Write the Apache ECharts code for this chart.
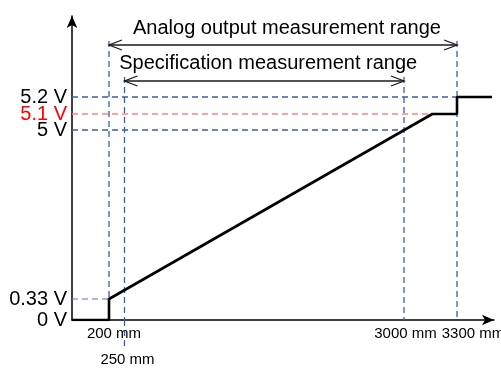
<!DOCTYPE html>
<html>
<head>
<meta charset="utf-8">
<script src="https://cdn.jsdelivr.net/npm/echarts@6/dist/echarts.min.js"></script>
<style>
  html, body { margin: 0; padding: 0; background: #fff; }
  #chart { width: 501px; height: 368px; }
</style>
</head>
<body>
<div id="chart"></div>
<script>
// data (real units)
const xTicks = [200, 250, 3000, 3300];          // mm
const yTicks = [0, 0.33, 5, 5.1, 5.2];          // V
const outMm = [0, 200, 200, 3160, 3300, 3300, 3500];
const outV = [0, 0, 0.33, 5.1, 5.1, 5.2, 5.2];
const rangeNames = ['Analog output measurement range', 'Specification measurement range'];
const rangeFrom = [200, 250];
const rangeTo = [3300, 3000];

// schematic (not to scale) axes: real value -> position along the axis
const xMap = [[0, 0], [200, 37], [250, 52.5], [3000, 332], [3300, 385], [3500, 420]];
const yMap = [[0, 0], [0.33, 21], [5, 190], [5.1, 206], [5.2, 223], [6, 304]];
function interp(map, v) {
    for (let i = 1; i < map.length; i++) {
        if (v <= map[i][0]) {
            let a = map[i - 1], b = map[i];
            return a[1] + (v - a[0]) / (b[0] - a[0]) * (b[1] - a[1]);
        }
    }
    return map[map.length - 1][1];
}
const px = v => interp(xMap, v);
const py = v => interp(yMap, v);

// levels of the range arrows (axis units)
const arrowLevel = [275, 239];
const guideTop = [279, 243];
const textLevel = [292, 257];

const blue = '#3d5ca8';
const dash = [6, 4];
const font = 'Liberation Sans';

let myChart = echarts.init(document.getElementById('chart'));

function guide(points, color, width) {
    return {
        type: 'line',
        data: points,
        symbol: 'none',
        silent: true,
        z: 1,
        lineStyle: { color: color, width: width || 1.3, type: dash }
    };
}

let series = [];
// horizontal guides
series.push(guide([[0, py(5.2)], [px(3300), py(5.2)]], blue));
series.push(guide([[0, py(5.1)], [px(3160), py(5.1)]], '#ff8080'));
series.push(guide([[0, py(5)], [px(3000), py(5)]], blue));
series.push(guide([[0, py(0.33)], [px(200), py(0.33)]], '#5a72b8', 1));
// vertical guides
series.push(guide([[px(200), guideTop[0]], [px(200), py(0.33)]], blue));
series.push(guide([[px(250), guideTop[1]], [px(250), 0]], blue));
series.push(guide([[px(3000), guideTop[1]], [px(3000), 0]], blue));
series.push(guide([[px(3300), guideTop[0]], [px(3300), 0]], blue));

// output line
series.push({
    type: 'line',
    data: outMm.map((m, i) => [px(m), py(outV[i])]),
    symbol: 'none',
    z: 3,
    lineStyle: { color: '#000', width: 2.6 }
});

// measurement ranges
series.push({
    type: 'custom',
    data: rangeNames.map((n, i) => [px(rangeFrom[i]), px(rangeTo[i]), arrowLevel[i], textLevel[i]]),
    z: 4,
    renderItem: function (params, api) {
        let p1 = api.coord([api.value(0), api.value(2)]);
        let p2 = api.coord([api.value(1), api.value(2)]);
        let t = api.coord([(api.value(0) + api.value(1)) / 2 + 4, api.value(3)]);
        let st = { stroke: '#1a1a1a', lineWidth: 1.3, fill: null };
        return {
            type: 'group',
            children: [
                { type: 'line', shape: { x1: p1[0], y1: p1[1], x2: p2[0], y2: p2[1] }, style: st },
                { type: 'polyline', shape: { points: [[p1[0] + 13, p1[1] - 5], p1, [p1[0] + 13, p1[1] + 5]] }, style: st },
                { type: 'polyline', shape: { points: [[p2[0] - 13, p2[1] - 5], p2, [p2[0] - 13, p2[1] + 5]] }, style: st },
                {
                    type: 'text',
                    style: {
                        text: rangeNames[params.dataIndex],
                        x: t[0], y: t[1],
                        align: 'center', verticalAlign: 'middle',
                        fill: '#000',
                        font: '20px "Liberation Sans", Arial, sans-serif'
                    }
                }
            ]
        };
    }
});

// one axis per label group, so no label gets hidden for overlapping
function xAxisFor(values, opts) {
    return {
        type: 'value',
        min: 0,
        max: 422,
        position: 'bottom',
        splitLine: { show: false },
        axisLine: { show: false },
        axisTick: { show: false },
        axisLabel: {
            customValues: values.map(px),
            hideOverlap: false,
            showMinLabel: true,
            showMaxLabel: true,
            margin: opts.margin,
            fontSize: 15,
            lineHeight: 15,
            fontFamily: font,
            color: '#000',
            padding: opts.padding,
            formatter: function (v) {
                let m = xTicks.find(t => Math.abs(px(t) - v) < 0.01);
                return m + ' mm';
            }
        }
    };
}

function yAxisFor(values, color) {
    return {
        type: 'value',
        min: 0,
        max: 304,
        position: 'left',
        splitLine: { show: false },
        axisTick: { show: false },
        axisLine: { show: false },
        axisLabel: {
            customValues: values.map(py),
            hideOverlap: false,
            showMinLabel: true,
            showMaxLabel: true,
            margin: 5,
            fontSize: 20,
            lineHeight: 16,
            fontFamily: font,
            color: color,
            formatter: function (v) {
                let t = yTicks.find(t => Math.abs(py(t) - v) < 0.01);
                return t + ' V';
            }
        }
    };
}

let arrowLine = {
    show: true,
    symbol: ['none', 'arrow'],
    symbolSize: [8, 12],
    lineStyle: { color: '#000', width: 1.5 }
};

let xMain = xAxisFor([200], { margin: 6, padding: [0, 0, 0, 10] });
xMain.axisLine = arrowLine;
let x250 = xAxisFor([250], { margin: 32, padding: [0, 0, 0, 6] });
x250.axisTick = {
    show: true,
    customValues: [px(250)],
    length: 30,
    lineStyle: { color: blue, width: 1.3, type: dash }
};
let x3000 = xAxisFor([3000], { margin: 6, padding: [0, 0, 0, 3] });
let x3300 = xAxisFor([3300], { margin: 6, padding: [0, 0, 0, 32] });

let yMain = yAxisFor([0, 0.33, 5, 5.2], '#000');
yMain.axisLine = arrowLine;
let y51 = yAxisFor([5.1], '#ff0000');

let option = {
    animation: false,
    grid: { left: 72, right: 7, top: 16, bottom: 48, containLabel: false, outerBoundsMode: 'none' },
    xAxis: [xMain, x250, x3000, x3300],
    yAxis: [yMain, y51],
    series: series
};

myChart.setOption(option);
</script>
</body>
</html>
